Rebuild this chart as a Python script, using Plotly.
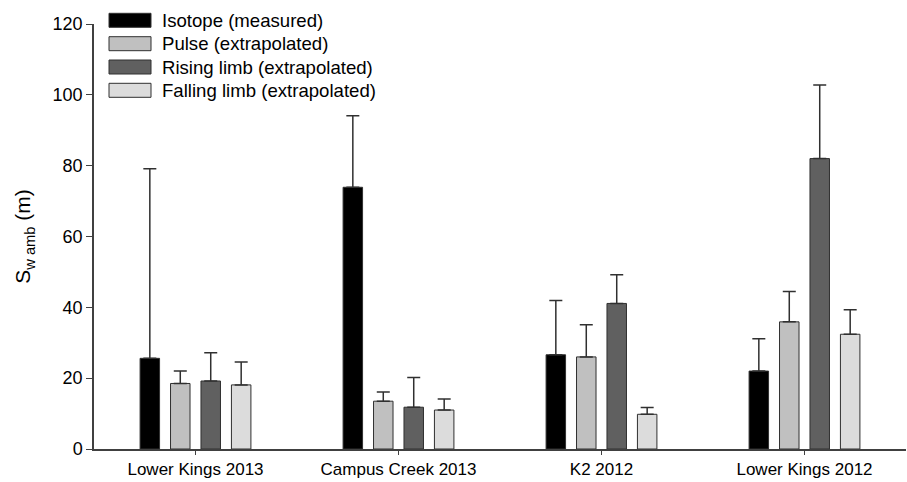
import plotly.graph_objects as go

categories = ["Lower Kings 2013", "Campus Creek 2013", "K2 2012", "Lower Kings 2012"]
series_names = ["Isotope (measured)", "Pulse (extrapolated)", "Rising limb (extrapolated)", "Falling limb (extrapolated)"]
isotope = [25.6, 73.9, 26.6, 22.0]
isotope_err = [53.5, 20.2, 15.3, 9.1]
pulse = [18.5, 13.5, 26.0, 35.9]
pulse_err = [3.5, 2.6, 9.1, 8.6]
rising = [19.2, 11.8, 41.1, 82.0]
rising_err = [8.0, 8.4, 8.1, 20.8]
falling = [18.1, 11.0, 9.8, 32.4]
falling_err = [6.5, 3.1, 1.9, 6.9]
y_ticks = [0, 20, 40, 60, 80, 100, 120]

colors = ["#000000", "#c0c0c0", "#606060", "#dcdcdc"]
edge = "#303030"
FONT = "Liberation Sans, Arial, sans-serif"

W, H = 907, 482
ML, MR, MT, MB = 94, 1, 24, 33

fig = go.Figure()
for name, vals, errs, col in zip(series_names,
                                 [isotope, pulse, rising, falling],
                                 [isotope_err, pulse_err, rising_err, falling_err],
                                 colors):
    fig.add_trace(go.Bar(
        x=categories, y=vals, name=name,
        marker=dict(color=col, line=dict(color=edge, width=1)),
        error_y=dict(type="data", symmetric=False, array=errs,
                     arrayminus=[0] * len(errs), color=edge,
                     thickness=1.5, width=6.5),
        showlegend=False,
    ))

# custom legend (wide swatches like the original)
pw = W - ML - MR
ph = H - MT - MB
def px_x(x):
    return (x - ML) / pw
def px_y(y):
    return (H - MB - y) / ph

row_tops = [13.3, 36.7, 60.0, 83.3]
shapes = []
annotations = []
for i, (name, col) in enumerate(zip(series_names, colors)):
    top = row_tops[i]
    shapes.append(dict(type="rect", xref="paper", yref="paper",
                       x0=px_x(109), x1=px_x(151), y0=px_y(top + 14), y1=px_y(top),
                       fillcolor=col, line=dict(color=edge, width=1)))
    annotations.append(dict(xref="paper", yref="paper", x=px_x(160), y=px_y(top + 7),
                            text=name, showarrow=False, xanchor="left", yanchor="middle",
                            font=dict(size=18.6, color="#000000", family=FONT)))

fig.update_layout(
    width=W, height=H,
    margin=dict(l=ML, r=MR, t=MT, b=MB),
    paper_bgcolor="white", plot_bgcolor="white",
    barmode="group", bargap=0.4, bargroupgap=0.36,
    font=dict(family=FONT, color="#000000"),
    shapes=shapes, annotations=annotations,
    xaxis=dict(showline=True, linecolor="#404040", linewidth=1.5,
               ticks="outside", ticklen=4, tickcolor="#404040", tickwidth=1,
               tickfont=dict(size=17, family=FONT), showgrid=False,
               range=[-0.5, 3.5], automargin=False),
    yaxis=dict(showline=True, linecolor="#404040", linewidth=1.5,
               ticks="outside", ticklen=6, tickcolor="#404040", tickwidth=1,
               tickfont=dict(size=18, family=FONT), showgrid=False, zeroline=False,
               range=[0, 120], tickvals=y_ticks, automargin=False,
               title=dict(text="S<sub>w amb</sub> (m)", font=dict(size=21, family=FONT),
                          standoff=16)),
)

fig.write_html("out.html", config={"displayModeBar": False},
               post_script="document.body.style.margin='0';document.body.style.padding='0';")
